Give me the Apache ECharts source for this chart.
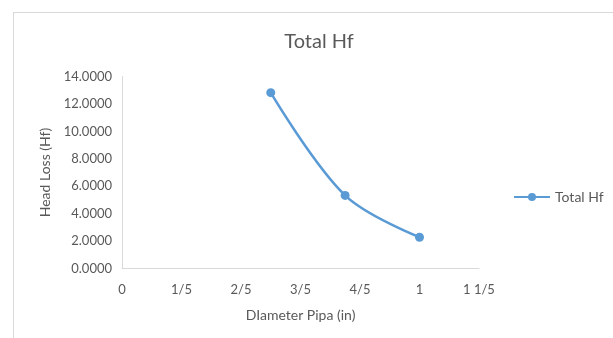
<!DOCTYPE html>
<html>
<head>
<meta charset="utf-8">
<script src="https://cdn.jsdelivr.net/npm/echarts@6/dist/echarts.min.js"></script>
<style>
html,body{margin:0;padding:0;background:#fff;}
#frame{position:absolute;left:13px;top:12px;width:620px;height:340px;border:1px solid #d9d9d9;box-sizing:border-box;}
#chart{position:absolute;left:0;top:0;width:613px;height:338px;}
</style>
</head>
<body>
<div id="frame"></div>
<div id="chart"></div>
<script>
var seriesName = 'Total Hf';
var diameters = [0.5, 0.75, 1.0];
var headLoss = [12.82, 5.33, 2.28];
var xTickLabels = ['0', '1/5', '2/5', '3/5', '4/5', '1', '1 1/5'];
var yTickLabels = ['0.0000', '2.0000', '4.0000', '6.0000', '8.0000', '10.0000', '12.0000', '14.0000'];

var font = 'Lato, "Open Sans", sans-serif';
var chart = echarts.init(document.getElementById('chart'), null, {renderer: 'canvas'});
chart.setOption({
  backgroundColor: 'transparent',
  animation: false,
  title: {
    text: 'Total Hf',
    left: 314, top: 27, textAlign: 'center',
    textStyle: {fontFamily: font, fontSize: 20, fontWeight: 'normal', color: '#595959'}
  },
  legend: {
    data: [seriesName],
    left: 508, top: 185,
    itemWidth: 36, itemHeight: 10, itemGap: 5,
    textStyle: {fontFamily: font, fontSize: 14, color: '#595959'}
  },
  grid: {left: 122, right: 134, top: 76.5, bottom: 69.5, containLabel: false},
  xAxis: {
    type: 'value', min: 0, max: 1.2, interval: 0.2,
    name: 'DIameter Pipa (in)', nameLocation: 'middle', nameGap: 40,
    nameTextStyle: {fontFamily: font, fontSize: 14, color: '#595959'},
    axisLine: {show: true, lineStyle: {color: '#d9d9d9', width: 1}},
    axisTick: {show: false},
    splitLine: {show: false},
    axisLabel: {
      fontFamily: font, fontSize: 13, color: '#595959', margin: 15,
      formatter: function (v) { return xTickLabels[Math.round(v / 0.2)]; }
    }
  },
  yAxis: {
    type: 'value', min: 0, max: 14, interval: 2,
    name: 'Head Loss (Hf)', nameLocation: 'middle', nameGap: 69, nameRotate: 90,
    nameTextStyle: {fontFamily: font, fontSize: 14, color: '#595959'},
    axisLine: {show: true, lineStyle: {color: '#d9d9d9', width: 1}},
    axisTick: {show: false},
    splitLine: {show: false},
    axisLabel: {
      fontFamily: font, fontSize: 13, color: '#595959', margin: 10,
      formatter: function (v) { return yTickLabels[Math.round(v / 2)]; }
    }
  },
  series: [{
    name: seriesName,
    type: 'line',
    data: diameters.map(function (d, i) { return [d, headLoss[i]]; }),
    smooth: 0.35,
    symbol: 'circle', symbolSize: 9,
    lineStyle: {color: '#5b9bd5', width: 2.5},
    itemStyle: {color: '#5b9bd5'}
  }]
});
</script>
</body>
</html>
